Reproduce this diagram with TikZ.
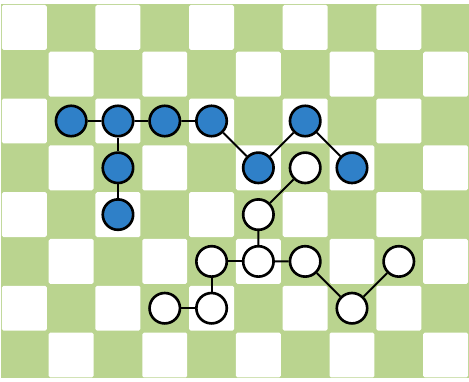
\documentclass[tikz,border=0pt]{standalone}
\usepackage{tikz}
\definecolor{boardgreen}{HTML}{BAD48F}
\definecolor{beadblue}{HTML}{2F80C8}

\begin{document}
\begin{tikzpicture}[
    bead/.style={circle, draw=black, line width=1.6pt,
                 minimum size=0.65cm, inner sep=0pt},
    bluebead/.style={bead, fill=beadblue},
    whitebead/.style={bead, fill=white},
    bond/.style={line width=1.2pt}
]
\useasboundingbox (-0.02,-8.06) rectangle (10,0.085);
\fill[boardgreen] (0,-8) rectangle (10,0);
\foreach \c in {1,...,10}
  \foreach \r in {1,...,8} {
    \pgfmathtruncatemacro{\odd}{mod(\c+\r,2)}
    \ifnum\odd=0
      \fill[white, rounded corners=1pt] (\c-0.98,-\r+0.02) rectangle (\c-0.02,-\r+0.98);
    \fi
  }

\node[bluebead] (b1) at (1.5,-2.5) {};
\node[bluebead] (b2) at (2.5,-2.5) {};
\node[bluebead] (b3) at (3.5,-2.5) {};
\node[bluebead] (b4) at (4.5,-2.5) {};
\node[bluebead] (b5) at (2.5,-3.5) {};
\node[bluebead] (b6) at (2.5,-4.5) {};
\node[bluebead] (b7) at (5.5,-3.5) {};
\node[bluebead] (b8) at (6.5,-2.5) {};
\node[bluebead] (b9) at (7.5,-3.5) {};

\node[whitebead] (w1) at (6.5,-3.5) {};
\node[whitebead] (w2) at (5.5,-4.5) {};
\node[whitebead] (w3) at (5.5,-5.5) {};
\node[whitebead] (w4) at (6.5,-5.5) {};
\node[whitebead] (w5) at (7.5,-6.5) {};
\node[whitebead] (w6) at (8.5,-5.5) {};
\node[whitebead] (w7) at (4.5,-5.5) {};
\node[whitebead] (w8) at (4.5,-6.5) {};
\node[whitebead] (w9) at (3.5,-6.5) {};

\draw[bond] (b1) -- (b2) -- (b3) -- (b4) -- (b7) -- (b8) -- (b9);
\draw[bond] (b2) -- (b5) -- (b6);
\draw[bond] (w1) -- (w2) -- (w3) -- (w4) -- (w5) -- (w6);
\draw[bond] (w3) -- (w7) -- (w8) -- (w9);
\end{tikzpicture}
\end{document}
